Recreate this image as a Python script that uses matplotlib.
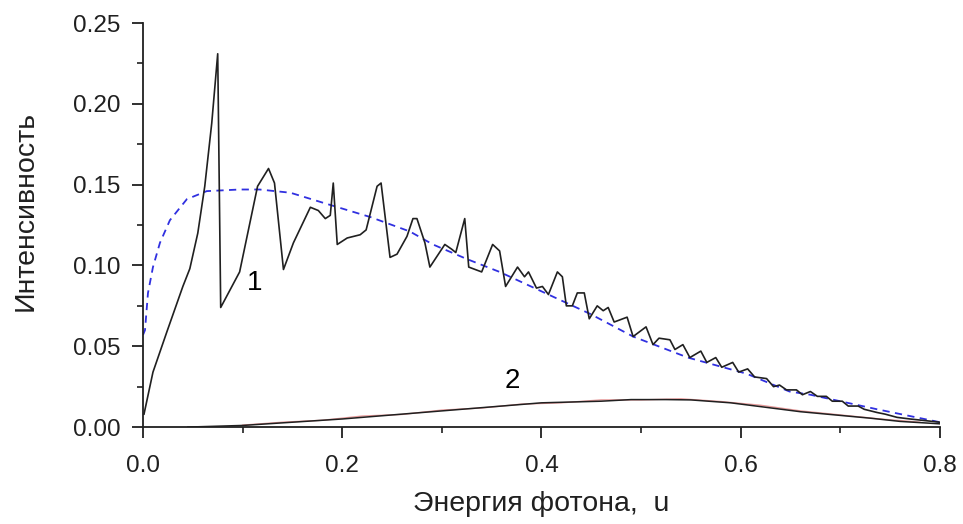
import matplotlib
matplotlib.use('Agg')
from matplotlib import pyplot
from matplotlib.ticker import MultipleLocator, FormatStrFormatter

pyplot.rcParams['font.family'] = ['Liberation Sans', 'DejaVu Sans']

# кривая 1 (точный спектр)
u1 = [0.001, 0.010, 0.024, 0.040, 0.047, 0.055, 0.062, 0.069, 0.075, 0.078,
      0.097, 0.115, 0.126, 0.132, 0.141, 0.151, 0.168, 0.176, 0.183, 0.188,
      0.191, 0.195, 0.205, 0.218, 0.224, 0.235, 0.239, 0.248, 0.255, 0.265,
      0.271, 0.275, 0.283, 0.288, 0.303, 0.310, 0.314, 0.323, 0.327, 0.340,
      0.351, 0.358, 0.364, 0.376, 0.383, 0.387, 0.395, 0.401, 0.407, 0.416,
      0.421, 0.425, 0.431, 0.436, 0.443, 0.448, 0.456, 0.462, 0.467, 0.473,
      0.486, 0.492, 0.505, 0.512, 0.518, 0.529, 0.534, 0.542, 0.549, 0.560,
      0.566, 0.575, 0.581, 0.592, 0.598, 0.607, 0.614, 0.626, 0.633, 0.639,
      0.646, 0.656, 0.662, 0.670, 0.677, 0.686, 0.692, 0.702, 0.708, 0.718,
      0.724, 0.737, 0.745, 0.757, 0.770, 0.785, 0.800]
i1 = [0.008, 0.034, 0.059, 0.087, 0.098, 0.120, 0.149, 0.188, 0.231, 0.074,
      0.096, 0.149, 0.160, 0.151, 0.0975, 0.114, 0.136, 0.134, 0.129, 0.131,
      0.151, 0.113, 0.117, 0.119, 0.122, 0.149, 0.151, 0.105, 0.107, 0.118,
      0.129, 0.129, 0.114, 0.099, 0.113, 0.110, 0.108, 0.129, 0.099, 0.096,
      0.113, 0.109, 0.087, 0.099, 0.093, 0.096, 0.086, 0.087, 0.082, 0.096,
      0.093, 0.075, 0.075, 0.083, 0.083, 0.067, 0.075, 0.072, 0.074, 0.065,
      0.068, 0.056, 0.062, 0.051, 0.055, 0.054, 0.048, 0.051, 0.043, 0.047,
      0.040, 0.043, 0.037, 0.040, 0.034, 0.036, 0.031, 0.030, 0.025, 0.026,
      0.023, 0.023, 0.020, 0.022, 0.019, 0.019, 0.016, 0.016, 0.013, 0.013,
      0.011, 0.009, 0.008, 0.006, 0.005, 0.004, 0.003]

# огибающая (синяя пунктирная)
u_env = [0.0, 0.002, 0.005, 0.010, 0.017, 0.027, 0.044, 0.064, 0.097, 0.117,
         0.148, 0.185, 0.228, 0.268, 0.291, 0.325, 0.358, 0.407, 0.449, 0.492,
         0.547, 0.606, 0.649, 0.670, 0.737, 0.800]
i_env = [0.057, 0.060, 0.083, 0.099, 0.114, 0.128, 0.141, 0.146, 0.147, 0.147,
         0.145, 0.138, 0.130, 0.121, 0.113, 0.104, 0.096, 0.082, 0.070, 0.056,
         0.043, 0.033, 0.022, 0.020, 0.011, 0.003]

# кривая 2
u2 = [0.045, 0.10, 0.20, 0.30, 0.40, 0.46, 0.49, 0.525, 0.55, 0.59, 0.66,
      0.73, 0.76, 0.80]
i2 = [0.0, 0.001, 0.005, 0.010, 0.015, 0.016, 0.017, 0.017, 0.0168, 0.015,
      0.0095, 0.0055, 0.0035, 0.002]

# светло-красная кривая рядом с кривой 2
u2r = [0.10, 0.14, 0.18, 0.22, 0.26, 0.30, 0.34, 0.38, 0.42, 0.46, 0.50,
       0.54, 0.58, 0.62, 0.66, 0.70, 0.74, 0.78]
i2r = [0.0012, 0.003, 0.0042, 0.0068, 0.0078, 0.0105, 0.0118, 0.0142, 0.0150,
       0.0168, 0.0168, 0.0175, 0.0158, 0.0135, 0.0100, 0.0075, 0.0050, 0.0030]

fig = pyplot.figure(figsize=(9.63, 5.24), dpi=100)
ax = fig.add_axes([0.1485, 0.185, 0.8275, 0.771])

ax.plot(u2r, i2r, '-', c='#e08080', lw=1.0, alpha=0.8)
ax.plot(u2, i2, '-', c='#202020', lw=1.1)
ax.plot(u_env, i_env, '--', c='#3030e0', lw=1.3, dashes=(4, 3))
ax.plot(u1, i1, '-', c='#202020', lw=1.2)

ax.set_xlim(0, 0.8)
ax.set_ylim(0, 0.25)
ax.xaxis.set_major_locator(MultipleLocator(0.2))
ax.xaxis.set_minor_locator(MultipleLocator(0.1))
ax.yaxis.set_major_locator(MultipleLocator(0.05))
ax.yaxis.set_minor_locator(MultipleLocator(0.025))
ax.xaxis.set_major_formatter(FormatStrFormatter('%.1f'))
ax.yaxis.set_major_formatter(FormatStrFormatter('%.2f'))

for side in ('top', 'right'):
    ax.spines[side].set_visible(False)
for side in ('left', 'bottom'):
    ax.spines[side].set_linewidth(1.3)
    ax.spines[side].set_color('#202020')

ax.tick_params(which='major', direction='out', length=8, width=1.3,
               labelsize=17.5, colors='#202020')
ax.tick_params(axis='x', which='major', pad=12)
ax.tick_params(axis='y', which='major', pad=8)
ax.tick_params(which='minor', direction='out', length=4.5, width=1.2,
               colors='#202020')

ax.set_xlabel('Энергия фотона,  u', fontsize=20.5, color='#202020')
ax.set_ylabel('Интенсивность', fontsize=20.5, color='#202020')
ax.xaxis.set_label_coords(0.5, -0.158)
ax.yaxis.set_label_coords(-0.1305, 0.535)

ax.text(0.1124, 0.089, '1', fontsize=20, ha='center', va='center')
ax.text(0.371, 0.0284, '2', fontsize=20, ha='center', va='center')

fig.savefig('out.png')
